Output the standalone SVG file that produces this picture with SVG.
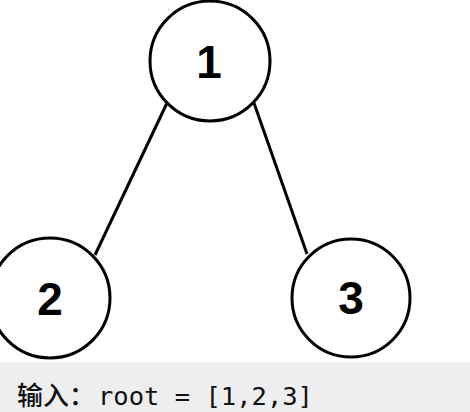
<svg xmlns="http://www.w3.org/2000/svg" width="470" height="412" viewBox="0 0 470 412">
<style>
.node circle{fill:#ffffff;stroke:#000000;stroke-width:3}
.node text{font-family:"Liberation Sans",Arial,sans-serif;font-weight:bold;font-size:46px;text-anchor:middle;fill:#000000}
.edge{stroke:#000000;stroke-width:3;fill:none}
.cap{font-size:25.5px;fill:#111111}
</style>
<rect x="0" y="0" width="470" height="412" fill="#ffffff"/>
<rect x="0" y="362" width="470" height="50" fill="#eeeef0"/>
<g id="connectors">
<line class="edge" x1="167" y1="103" x2="95" y2="255"/>
<line class="edge" x1="254" y1="103" x2="307" y2="254"/>
</g>
<g id="node1" class="node">
<circle cx="210" cy="61" r="60"/>
<text x="209" y="78">1</text>
</g>
<g id="node2" class="node">
<circle cx="50" cy="298" r="60"/>
<text x="50" y="315">2</text>
</g>
<g id="node3" class="node">
<circle cx="351" cy="298" r="59"/>
<text x="351" y="314">3</text>
</g>
<text class="cap" y="405"><tspan x="17" font-family="'Noto Sans CJK SC',sans-serif" font-size="26px" font-weight="500">输入：</tspan><tspan x="98" font-family="'DejaVu Sans Mono',monospace">root = [1,2,3]</tspan></text>
</svg>
